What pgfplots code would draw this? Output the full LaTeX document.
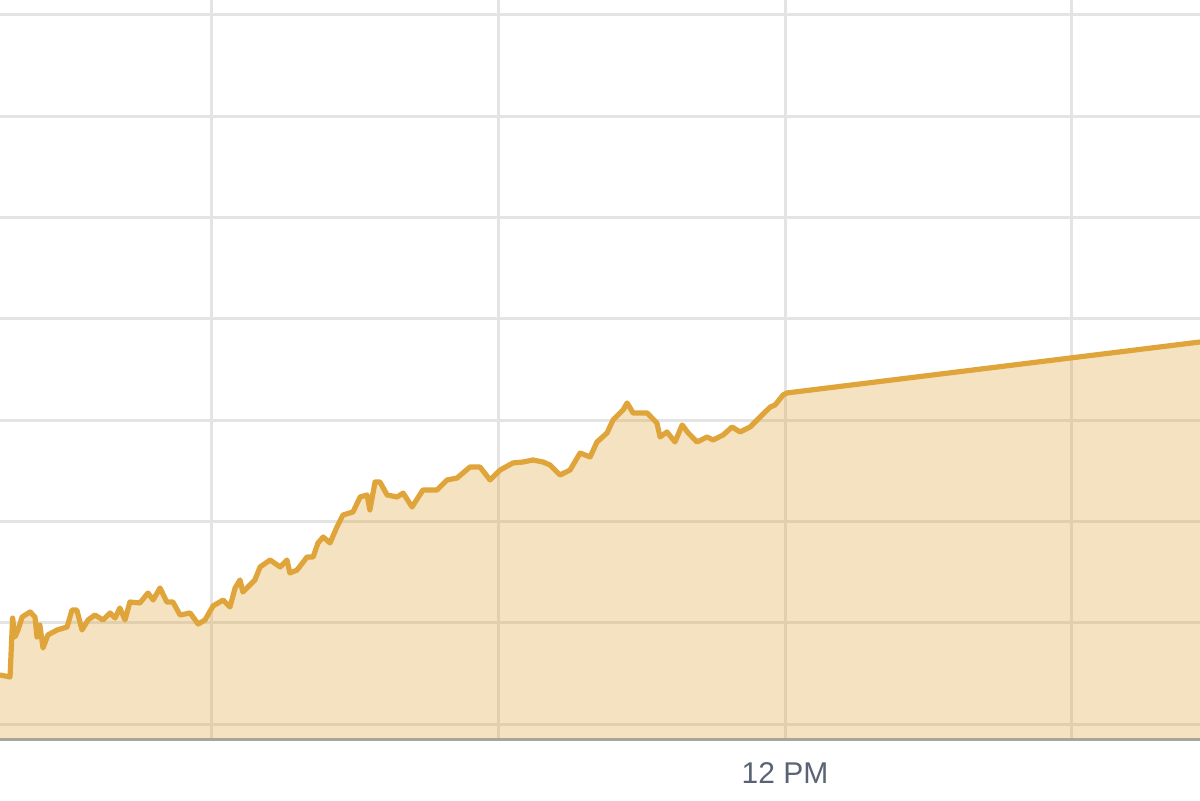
\documentclass[border=0pt]{standalone}
\usepackage{fontspec}
\setmainfont{Liberation Sans}
\usepackage{pgfplots}
\pgfplotsset{compat=1.18}
\usepgfplotslibrary{fillbetween}

\definecolor{gold}{HTML}{DFA53A}
\definecolor{gridgrey}{HTML}{E4E4E4}
\definecolor{axisgrey}{HTML}{A9A59D}
\definecolor{ticktext}{HTML}{5A6275}

% time in hours, level in grid units
\pgfplotstableread{
t      v
9.262  0.484
9.297  0.464
9.306  1.046
9.314  0.859
9.325  0.928
9.339  1.056
9.367  1.106
9.384  1.056
9.391  0.859
9.401  0.977
9.412  0.750
9.429  0.879
9.461  0.928
9.496  0.958
9.513  1.125
9.530  1.125
9.548  0.928
9.569  1.027
9.593  1.076
9.621  1.027
9.646  1.096
9.663  1.046
9.680  1.145
9.698  1.027
9.715  1.204
9.750  1.195
9.778  1.293
9.796  1.224
9.820  1.343
9.844  1.204
9.865  1.204
9.890  1.076
9.925  1.096
9.953  0.987
9.977  1.027
10.005 1.165
10.040 1.224
10.064 1.155
10.082 1.343
10.099 1.422
10.109 1.303
10.151 1.422
10.169 1.550
10.204 1.619
10.239 1.550
10.263 1.619
10.273 1.491
10.298 1.520
10.333 1.649
10.354 1.649
10.371 1.787
10.389 1.846
10.413 1.787
10.437 1.945
10.458 2.063
10.493 2.093
10.518 2.241
10.542 2.261
10.552 2.113
10.570 2.389
10.587 2.389
10.612 2.261
10.647 2.241
10.668 2.280
10.699 2.142
10.737 2.310
10.786 2.310
10.821 2.409
10.856 2.428
10.901 2.537
10.936 2.537
10.971 2.409
11.006 2.507
11.051 2.577
11.086 2.586
11.121 2.606
11.156 2.586
11.180 2.557
11.215 2.458
11.250 2.507
11.285 2.675
11.320 2.636
11.344 2.784
11.379 2.873
11.400 3.001
11.435 3.100
11.449 3.169
11.470 3.070
11.519 3.070
11.553 2.971
11.564 2.833
11.588 2.883
11.616 2.784
11.641 2.952
11.662 2.873
11.693 2.784
11.728 2.833
11.749 2.804
11.784 2.853
11.815 2.932
11.843 2.883
11.878 2.932
11.913 3.031
11.948 3.129
11.965 3.149
11.993 3.248
12.007 3.268
13.447 3.771
}\pricedata

\begin{document}
\begin{tikzpicture}
\begin{axis}[
  at={(0pt,30pt)}, anchor=south west,
  scale only axis, width=600pt, height=370pt,
  xmin=9.262, xmax=13.447, ymin=-0.158, ymax=7.147,
  xtick={10,11,12,13}, xticklabels={,,12 PM,},
  ytick={0,...,7}, yticklabels={},
  grid=major,
  major grid style={draw=gridgrey, line width=1.5pt},
  axis line style={draw=none},
  major tick length=0pt,
  xticklabel style={font=\fontsize{15}{18}\selectfont, text=ticktext,
    anchor=center, yshift=-16.5pt},
]
\addplot[name path=price, draw=gold, line width=2.6pt, line join=round]
  table[x=t, y=v] {\pricedata};
\path[name path=base] (axis cs:9.262,-0.158) -- (axis cs:13.447,-0.158);
\addplot[fill=gold, fill opacity=0.32, draw=none]
  fill between[of=price and base];
\draw[draw=axisgrey, line width=2pt] (rel axis cs:0,0) -- (rel axis cs:1,0);
\end{axis}
\pgfresetboundingbox
\useasboundingbox (0,0) rectangle (600pt,400pt);
\end{tikzpicture}
\end{document}
